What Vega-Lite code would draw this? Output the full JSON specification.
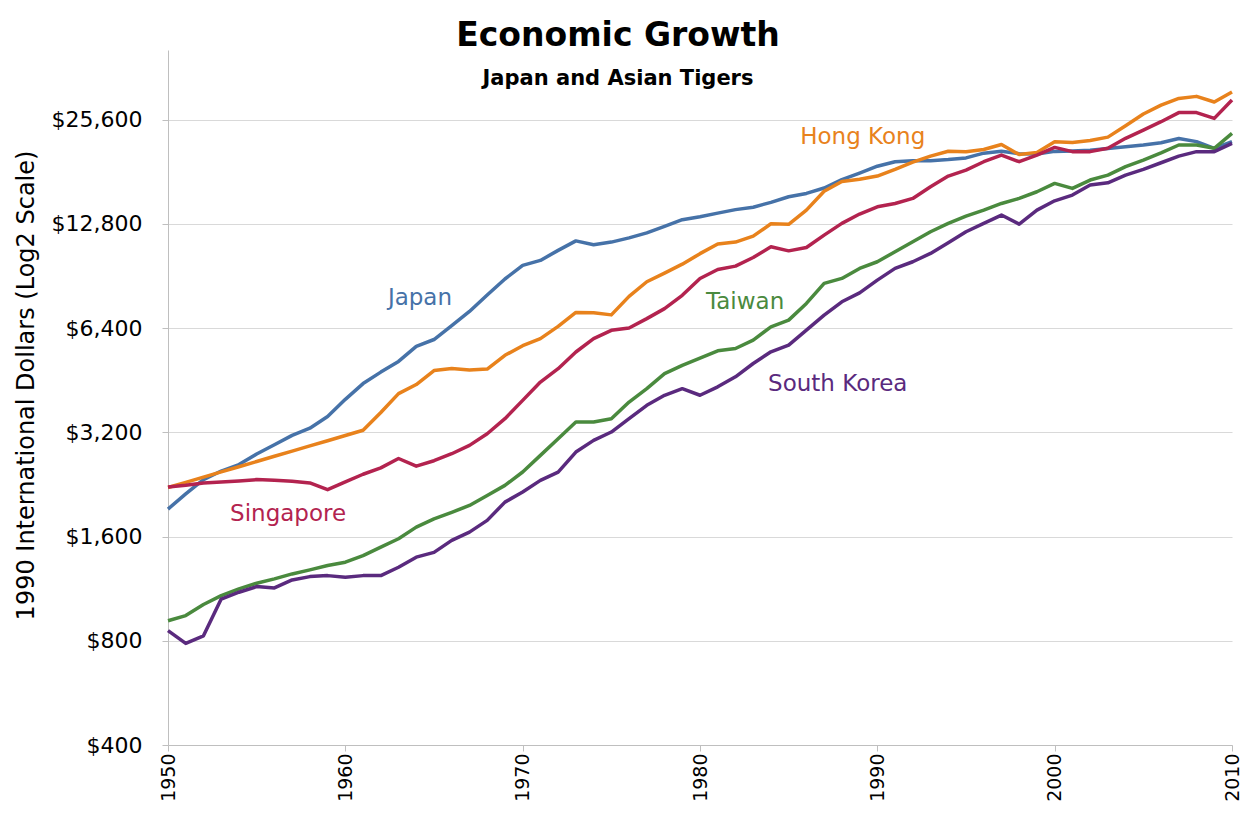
{
  "$schema": "https://vega.github.io/schema/vega-lite/v6.json",
  "width": 1064,
  "height": 695,
  "autosize": {"type": "none"},
  "padding": {"left": 168, "top": 50, "right": 9, "bottom": 78},
  "background": "white",
  "title": {
    "text": "Economic Growth",
    "subtitle": "Japan and Asian Tigers",
    "anchor": "middle",
    "frame": "group",
    "dx": -82,
    "offset": -39,
    "font": "DejaVu Sans",
    "fontSize": 33,
    "fontWeight": "bold",
    "color": "black",
    "subtitleFont": "DejaVu Sans",
    "subtitleFontSize": 21,
    "subtitleFontWeight": "bold",
    "subtitleColor": "black",
    "subtitlePadding": 15
  },
  "config": {"view": {"stroke": null}},
  "layer": [
    {
      "data": {
        "values": [
          {"year": 1950, "Japan": 1921, "Hong Kong": 2218, "Singapore": 2226, "Taiwan": 914, "South Korea": 856},
          {"year": 1951, "Japan": 2126, "Hong Kong": 2295, "Singapore": 2250, "Taiwan": 946, "South Korea": 786},
          {"year": 1952, "Japan": 2336, "Hong Kong": 2377, "Singapore": 2286, "Taiwan": 1018, "South Korea": 827},
          {"year": 1953, "Japan": 2474, "Hong Kong": 2460, "Singapore": 2301, "Taiwan": 1080, "South Korea": 1056},
          {"year": 1954, "Japan": 2582, "Hong Kong": 2546, "Singapore": 2317, "Taiwan": 1130, "South Korea": 1105},
          {"year": 1955, "Japan": 2771, "Hong Kong": 2636, "Singapore": 2337, "Taiwan": 1173, "South Korea": 1147},
          {"year": 1956, "Japan": 2948, "Hong Kong": 2729, "Singapore": 2326, "Taiwan": 1208, "South Korea": 1137},
          {"year": 1957, "Japan": 3136, "Hong Kong": 2825, "Singapore": 2311, "Taiwan": 1248, "South Korea": 1199},
          {"year": 1958, "Japan": 3289, "Hong Kong": 2924, "Singapore": 2286, "Taiwan": 1282, "South Korea": 1226},
          {"year": 1959, "Japan": 3554, "Hong Kong": 3027, "Singapore": 2186, "Taiwan": 1320, "South Korea": 1234},
          {"year": 1960, "Japan": 3986, "Hong Kong": 3134, "Singapore": 2301, "Taiwan": 1349, "South Korea": 1221},
          {"year": 1961, "Japan": 4426, "Hong Kong": 3244, "Singapore": 2422, "Taiwan": 1410, "South Korea": 1234},
          {"year": 1962, "Japan": 4777, "Hong Kong": 3652, "Singapore": 2526, "Taiwan": 1492, "South Korea": 1234},
          {"year": 1963, "Japan": 5129, "Hong Kong": 4141, "Singapore": 2689, "Taiwan": 1577, "South Korea": 1305},
          {"year": 1964, "Japan": 5668, "Hong Kong": 4398, "Singapore": 2555, "Taiwan": 1704, "South Korea": 1395},
          {"year": 1965, "Japan": 5934, "Hong Kong": 4825, "Singapore": 2650, "Taiwan": 1800, "South Korea": 1440},
          {"year": 1966, "Japan": 6506, "Hong Kong": 4891, "Singapore": 2776, "Taiwan": 1880, "South Korea": 1560},
          {"year": 1967, "Japan": 7152, "Hong Kong": 4843, "Singapore": 2934, "Taiwan": 1968, "South Korea": 1648},
          {"year": 1968, "Japan": 7983, "Hong Kong": 4875, "Singapore": 3171, "Taiwan": 2104, "South Korea": 1782},
          {"year": 1969, "Japan": 8874, "Hong Kong": 5342, "Singapore": 3504, "Taiwan": 2249, "South Korea": 2012},
          {"year": 1970, "Japan": 9714, "Hong Kong": 5695, "Singapore": 3958, "Taiwan": 2458, "South Korea": 2151},
          {"year": 1971, "Japan": 10040, "Hong Kong": 5968, "Singapore": 4472, "Taiwan": 2746, "South Korea": 2325},
          {"year": 1972, "Japan": 10734, "Hong Kong": 6473, "Singapore": 4887, "Taiwan": 3068, "South Korea": 2457},
          {"year": 1973, "Japan": 11434, "Hong Kong": 7105, "Singapore": 5460, "Taiwan": 3427, "South Korea": 2807},
          {"year": 1974, "Japan": 11145, "Hong Kong": 7091, "Singapore": 5968, "Taiwan": 3427, "South Korea": 3034},
          {"year": 1975, "Japan": 11344, "Hong Kong": 6990, "Singapore": 6307, "Taiwan": 3504, "South Korea": 3207},
          {"year": 1976, "Japan": 11669, "Hong Kong": 7906, "Singapore": 6406, "Taiwan": 3915, "South Korea": 3505},
          {"year": 1977, "Japan": 12064, "Hong Kong": 8714, "Singapore": 6817, "Taiwan": 4278, "South Korea": 3830},
          {"year": 1978, "Japan": 12585, "Hong Kong": 9231, "Singapore": 7286, "Taiwan": 4727, "South Korea": 4093},
          {"year": 1979, "Japan": 13163, "Hong Kong": 9794, "Singapore": 7962, "Taiwan": 4996, "South Korea": 4278},
          {"year": 1980, "Japan": 13428, "Hong Kong": 10503, "Singapore": 8900, "Taiwan": 5240, "South Korea": 4096},
          {"year": 1981, "Japan": 13754, "Hong Kong": 11202, "Singapore": 9454, "Taiwan": 5503, "South Korea": 4332},
          {"year": 1982, "Japan": 14078, "Hong Kong": 11342, "Singapore": 9666, "Taiwan": 5589, "South Korea": 4630},
          {"year": 1983, "Japan": 14307, "Hong Kong": 11797, "Singapore": 10237, "Taiwan": 5909, "South Korea": 5059},
          {"year": 1984, "Japan": 14773, "Hong Kong": 12815, "Singapore": 10993, "Taiwan": 6458, "South Korea": 5469},
          {"year": 1985, "Japan": 15332, "Hong Kong": 12763, "Singapore": 10700, "Taiwan": 6751, "South Korea": 5717},
          {"year": 1986, "Japan": 15680, "Hong Kong": 14029, "Singapore": 10940, "Taiwan": 7543, "South Korea": 6316},
          {"year": 1987, "Japan": 16251, "Hong Kong": 15905, "Singapore": 11882, "Taiwan": 8616, "South Korea": 6979},
          {"year": 1988, "Japan": 17185, "Hong Kong": 16974, "Singapore": 12845, "Taiwan": 8908, "South Korea": 7626},
          {"year": 1989, "Japan": 17943, "Hong Kong": 17221, "Singapore": 13668, "Taiwan": 9522, "South Korea": 8095},
          {"year": 1990, "Japan": 18789, "Hong Kong": 17600, "Singapore": 14347, "Taiwan": 9953, "South Korea": 8810},
          {"year": 1991, "Japan": 19355, "Hong Kong": 18400, "Singapore": 14668, "Taiwan": 10638, "South Korea": 9522},
          {"year": 1992, "Japan": 19482, "Hong Kong": 19300, "Singapore": 15166, "Taiwan": 11369, "South Korea": 9953},
          {"year": 1993, "Japan": 19478, "Hong Kong": 20100, "Singapore": 16392, "Taiwan": 12150, "South Korea": 10521},
          {"year": 1994, "Japan": 19632, "Hong Kong": 20750, "Singapore": 17594, "Taiwan": 12845, "South Korea": 11291},
          {"year": 1995, "Japan": 19857, "Hong Kong": 20700, "Singapore": 18316, "Taiwan": 13484, "South Korea": 12150},
          {"year": 1996, "Japan": 20494, "Hong Kong": 21000, "Singapore": 19360, "Taiwan": 14034, "South Korea": 12845},
          {"year": 1997, "Japan": 20743, "Hong Kong": 21700, "Singapore": 20234, "Taiwan": 14668, "South Korea": 13578},
          {"year": 1998, "Japan": 20412, "Hong Kong": 20300, "Singapore": 19360, "Taiwan": 15166, "South Korea": 12784},
          {"year": 1999, "Japan": 20364, "Hong Kong": 20600, "Singapore": 20234, "Taiwan": 15853, "South Korea": 14034},
          {"year": 2000, "Japan": 20738, "Hong Kong": 22100, "Singapore": 21293, "Taiwan": 16757, "South Korea": 14929},
          {"year": 2001, "Japan": 20800, "Hong Kong": 22000, "Singapore": 20700, "Taiwan": 16207, "South Korea": 15510},
          {"year": 2002, "Japan": 20900, "Hong Kong": 22300, "Singapore": 20700, "Taiwan": 17137, "South Korea": 16575},
          {"year": 2003, "Japan": 21150, "Hong Kong": 22800, "Singapore": 21162, "Taiwan": 17705, "South Korea": 16830},
          {"year": 2004, "Japan": 21400, "Hong Kong": 24600, "Singapore": 22615, "Taiwan": 18733, "South Korea": 17705},
          {"year": 2005, "Japan": 21650, "Hong Kong": 26600, "Singapore": 23890, "Taiwan": 19578, "South Korea": 18390},
          {"year": 2006, "Japan": 21970, "Hong Kong": 28200, "Singapore": 25264, "Taiwan": 20540, "South Korea": 19227},
          {"year": 2007, "Japan": 22600, "Hong Kong": 29500, "Singapore": 26840, "Taiwan": 21635, "South Korea": 20100},
          {"year": 2008, "Japan": 22130, "Hong Kong": 29900, "Singapore": 26840, "Taiwan": 21635, "South Korea": 20700},
          {"year": 2009, "Japan": 21160, "Hong Kong": 28800, "Singapore": 25830, "Taiwan": 21162, "South Korea": 20700},
          {"year": 2010, "Japan": 22130, "Hong Kong": 30800, "Singapore": 29200, "Taiwan": 23370, "South Korea": 21875}
        ]
      },
      "transform": [{"fold": ["Japan", "Hong Kong", "Singapore", "Taiwan", "South Korea"], "as": ["country", "gdp"]}],
      "mark": {"type": "line", "strokeWidth": 3.5, "strokeJoin": "round"},
      "encoding": {
        "x": {
          "field": "year",
          "type": "quantitative",
          "scale": {"domain": [1950, 2010], "nice": false, "zero": false},
          "axis": {
            "values": [1950, 1960, 1970, 1980, 1990, 2000, 2010],
            "format": "d",
            "labelAngle": 270,
            "labelFont": "DejaVu Sans",
            "labelFontSize": 19,
            "labelColor": "black",
            "labelPadding": 2,
            "labelFlush": false,
            "labelOverlap": false,
            "labelBound": false,
            "tickColor": "#bfbfbf",
            "tickSize": 6,
            "domainColor": "#bfbfbf",
            "grid": false,
            "title": null
          }
        },
        "y": {
          "field": "gdp",
          "type": "quantitative",
          "scale": {"type": "log", "base": 2, "domain": [400, 40700], "nice": false},
          "axis": {
            "values": [400, 800, 1600, 3200, 6400, 12800, 25600],
            "format": "$,d",
            "labelFont": "DejaVu Sans",
            "labelFontSize": 22,
            "labelColor": "black",
            "labelPadding": 20,
            "grid": true,
            "gridColor": "#d9d9d9",
            "tickColor": "#bfbfbf",
            "tickSize": 6,
            "domainColor": "#bfbfbf",
            "title": "1990 International Dollars (Log2 Scale)",
            "titleFont": "DejaVu Sans",
            "titleFontSize": 24,
            "titleFontWeight": "normal",
            "titleColor": "black",
            "titleX": -142,
            "titleY": 335,
            "titleAngle": -90,
            "titleAlign": "center",
            "titleBaseline": "middle"
          }
        },
        "color": {
          "field": "country",
          "type": "nominal",
          "scale": {
            "domain": ["Japan", "Hong Kong", "Singapore", "Taiwan", "South Korea"],
            "range": ["#4672a8", "#e8821c", "#b3234f", "#4a8a3e", "#5a2a7e"]
          },
          "legend": null
        }
      }
    },
    {
      "data": {
        "values": [
          {"country": "Japan", "year": 1962.4, "gdp": 7825},
          {"country": "Hong Kong", "year": 1985.65, "gdp": 22830},
          {"country": "Singapore", "year": 1953.5, "gdp": 1860},
          {"country": "Taiwan", "year": 1980.34, "gdp": 7618},
          {"country": "South Korea", "year": 1983.84, "gdp": 4414}
        ]
      },
      "mark": {"type": "text", "align": "left", "baseline": "middle", "font": "DejaVu Sans", "fontSize": 23},
      "encoding": {
        "x": {"field": "year", "type": "quantitative"},
        "y": {"field": "gdp", "type": "quantitative"},
        "text": {"field": "country", "type": "nominal"},
        "color": {"field": "country", "type": "nominal", "legend": null}
      }
    }
  ]
}
